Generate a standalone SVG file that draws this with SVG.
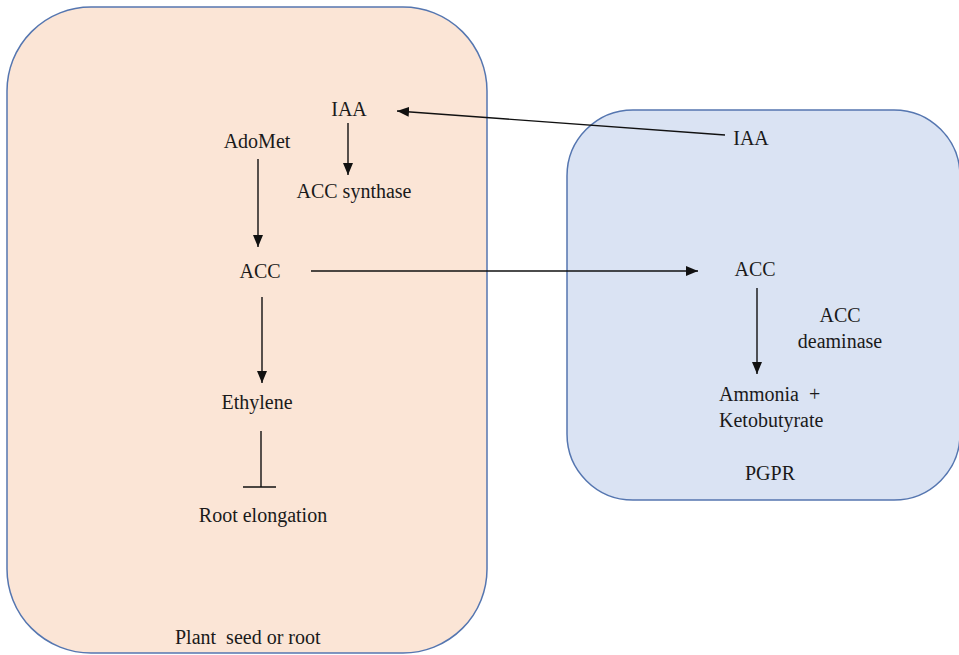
<svg xmlns="http://www.w3.org/2000/svg" width="959" height="655" viewBox="0 0 959 655">
<defs>
<style>
.box{stroke:#5576B0;stroke-width:1.5}
.t{font-family:'Liberation Serif','Times New Roman',serif;font-size:20px;fill:#1a1a1a}
.m{text-anchor:middle}
.c{stroke:#111;stroke-width:1.4;fill:none}
</style>
<marker id="ah" markerUnits="userSpaceOnUse" markerWidth="14" markerHeight="12" refX="12" refY="5" orient="auto">
<path d="M0,0 L12,5 L0,10 Z" fill="#111"/>
</marker>
</defs>
<rect width="959" height="655" fill="#fff"/>
<g id="plant">
<rect class="box" x="7" y="7" width="480" height="646" rx="84" ry="84" fill="#FBE5D6"/>
<text class="t" x="175" y="644" style="white-space:pre">Plant  seed or root</text>
</g>
<g id="pgpr">
<rect class="box" x="567" y="110" width="393" height="390" rx="66" ry="66" fill="#DAE3F3"/>
<text class="t m" x="770" y="480">PGPR</text>
</g>
<g id="iaa-plant"><text class="t m" x="349" y="116">IAA</text></g>
<g id="adomet"><text class="t m" x="257" y="148">AdoMet</text></g>
<g id="acc-synthase"><text class="t m" x="354" y="198">ACC synthase</text></g>
<g id="acc-plant"><text class="t m" x="260" y="278">ACC</text></g>
<g id="ethylene"><text class="t m" x="257" y="409">Ethylene</text></g>
<g id="root-elongation"><text class="t m" x="263" y="522">Root elongation</text></g>
<g id="iaa-pgpr"><text class="t m" x="751" y="145">IAA</text></g>
<g id="acc-pgpr"><text class="t m" x="755" y="276">ACC</text></g>
<g id="acc-deaminase"><text class="t m" x="840" y="322">ACC</text><text class="t m" x="840" y="348">deaminase</text></g>
<g id="products"><text class="t" x="719" y="401" style="white-space:pre">Ammonia  +</text><text class="t" x="719" y="427">Ketobutyrate</text></g>
<g id="connectors">
<line class="c" x1="725" y1="135" x2="397" y2="111" marker-end="url(#ah)"/>
<line class="c" x1="348" y1="123" x2="348" y2="175" marker-end="url(#ah)"/>
<line class="c" x1="258" y1="159" x2="258" y2="247" marker-end="url(#ah)"/>
<line class="c" x1="311" y1="271" x2="698" y2="271" marker-end="url(#ah)"/>
<line class="c" x1="262" y1="297" x2="262" y2="383" marker-end="url(#ah)"/>
<line class="c" x1="261" y1="431" x2="261" y2="487"/>
<line class="c" x1="243" y1="487" x2="276" y2="487"/>
<line class="c" x1="757" y1="288" x2="757" y2="374" marker-end="url(#ah)"/>
</g>
</svg>
